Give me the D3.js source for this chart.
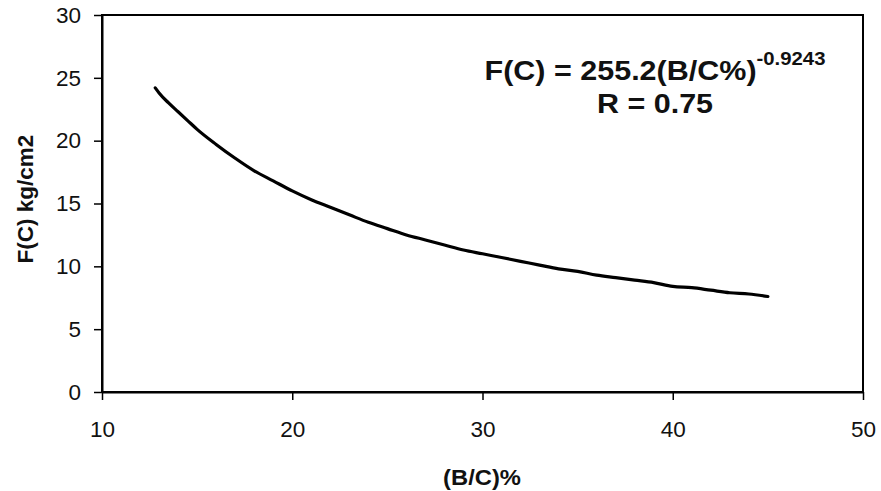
<!DOCTYPE html>
<html>
<head>
<meta charset="utf-8">
<script src="https://cdn.jsdelivr.net/npm/d3@7"></script>
<style>
  html, body { margin: 0; padding: 0; background: #fff; }
  svg { display: block; font-family: Arial, "Liberation Sans", sans-serif; }
</style>
</head>
<body>
<svg id="chart" width="881" height="491"></svg>
<script>
// Data
const bcPercent = [12.8, 13.0, 13.5, 14, 14.5, 15, 16, 17, 18, 19, 20, 21, 22, 23, 24, 25, 26, 27, 28, 29, 30, 31, 32, 33, 34, 35, 36, 37, 38, 39, 40, 41, 42, 43, 44, 45];
const fcValues  = [24.2, 23.8, 23.0, 22.3, 21.6, 20.9, 19.7, 18.6, 17.6, 16.8, 16.0, 15.3, 14.7, 14.1, 13.5, 13.0, 12.5, 12.1, 11.7, 11.3, 11.0, 10.7, 10.4, 10.1, 9.8, 9.6, 9.3, 9.1, 8.9, 8.7, 8.4, 8.3, 8.1, 7.9, 7.8, 7.6];
const xTicks = [10, 20, 30, 40, 50];
const yTicks = [0, 5, 10, 15, 20, 25, 30];
const xTitle = "(B/C)%";
const yTitle = "F(C) kg/cm2";
const eqMain = "F(C) = 255.2(B/C%)";
const eqExp = "-0.9243";
const eqR = "R = 0.75";

const svg = d3.select("#chart");
const mLeft = 102, mRight = 863, mTop = 15, mBottom = 392;

const x = d3.scaleLinear().domain([10, 50]).range([mLeft, mRight]);
const y = d3.scaleLinear().domain([0, 30]).range([mBottom, mTop]);

// plot box
svg.append("rect")
  .attr("x", mLeft).attr("y", mTop)
  .attr("width", mRight - mLeft).attr("height", mBottom - mTop)
  .attr("fill", "none").attr("stroke", "#000").attr("stroke-width", 2);

// axes
const xAxis = svg.append("g").attr("transform", `translate(0,${mBottom})`)
  .call(d3.axisBottom(x).tickValues(xTicks).tickFormat(d3.format("d")).tickSizeInner(8).tickSizeOuter(0).tickPadding(21));
const yAxis = svg.append("g").attr("transform", `translate(${mLeft},0)`)
  .call(d3.axisLeft(y).tickValues(yTicks).tickFormat(d3.format("d")).tickSizeInner(8).tickSizeOuter(0).tickPadding(13));

[xAxis, yAxis].forEach(g => {
  g.select(".domain").attr("stroke", "#000").attr("stroke-width", 2);
  g.selectAll(".tick line").attr("stroke", "#000").attr("stroke-width", 1.5);
  g.selectAll(".tick text").attr("fill", "#111").style("font-size", "22.5px")
    .style("font-family", "Arial, 'Liberation Sans', sans-serif");
});

// curve
const pts = bcPercent.map((v, i) => [v, fcValues[i]]);
svg.append("path")
  .datum(pts)
  .attr("fill", "none")
  .attr("stroke", "#000")
  .attr("stroke-width", 3.2)
  .attr("stroke-linecap", "round")
  .attr("stroke-linejoin", "round")
  .attr("d", d3.line().x(d => x(d[0])).y(d => y(d[1])).curve(d3.curveMonotoneX));

// axis titles
svg.append("text")
  .attr("transform", "translate(482,485) scale(1.08,1)")
  .attr("text-anchor", "middle")
  .style("font-size", "22px").style("font-weight", "bold").attr("fill", "#111")
  .text(xTitle);

svg.append("text")
  .attr("transform", "translate(33,199) rotate(-90)")
  .attr("text-anchor", "middle")
  .style("font-size", "22.5px").style("font-weight", "bold").attr("fill", "#111")
  .text(yTitle);

// equation
const eq = svg.append("text")
  .attr("transform", "translate(655,80) scale(1.13,1)")
  .attr("text-anchor", "middle")
  .style("font-weight", "bold").attr("fill", "#111");
eq.append("tspan").style("font-size", "27px").text(eqMain);
eq.append("tspan").style("font-size", "18px").attr("dy", -15).text(eqExp);

svg.append("text")
  .attr("transform", "translate(655,113) scale(1.13,1)")
  .attr("text-anchor", "middle")
  .style("font-size", "27px").style("font-weight", "bold").attr("fill", "#111")
  .text(eqR);
</script>
</body>
</html>
